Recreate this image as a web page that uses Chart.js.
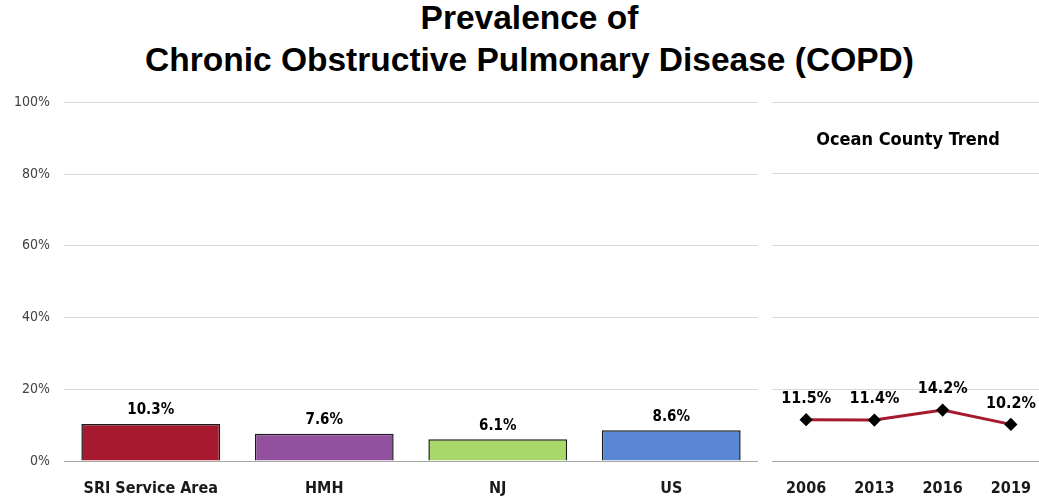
<!DOCTYPE html>
<html>
<head>
<meta charset="utf-8">
<script src="https://cdn.jsdelivr.net/npm/chart.js@4"></script>
<style>
  html, body { margin: 0; padding: 0; background: #fff; overflow: hidden; }
  body { width: 1039px; height: 497px; position: relative; }
  .title {
    position: absolute; left: 10px; width: 1039px; text-align: center;
    font: bold 33.5px 'Liberation Sans', Arial, sans-serif; color: #000; line-height: 42px;
  }
  #trendLabel {
    position: absolute; left: 772px; width: 272px; top: 128px; text-align: center;
    font: bold 18px 'Liberation Sans Narrow', 'Arial Narrow', 'DejaVu Sans Condensed', sans-serif; color: #000;
  }
  #barWrap { position: absolute; left: 0; top: 80px; width: 760px; height: 417px; }
  #lineWrap { position: absolute; left: 772px; top: 90px; width: 273px; height: 407px; }
</style>
</head>
<body>
<div class="title" style="top:-3px">Prevalence of</div>
<div class="title" style="top:39px">Chronic Obstructive Pulmonary Disease (COPD)</div>
<div id="barWrap"><canvas id="barChart"></canvas></div>
<div id="lineWrap"><canvas id="lineChart"></canvas></div>
<div id="trendLabel">Ocean County Trend</div>
<script>
// data
const areas = ['SRI Service Area', 'HMH', 'NJ', 'US'];
const areaValues = [10.3, 7.6, 6.1, 8.6];
const areaColors = ['#A6192E', '#93509E', '#A8D86A', '#5A86D6'];

const years = ['2006', '2013', '2016', '2019'];
const trendValues = [11.5, 11.4, 14.2, 10.2];

const yTicks = [0, 20, 40, 60, 80, 100];

const NARROW = "'Liberation Sans Narrow', 'Arial Narrow', 'DejaVu Sans Condensed', sans-serif";

// draws the % labels above bars / points
const valueLabels = {
    id: 'valueLabels',
    afterDatasetsDraw(chart, args, opts) {
        const ctx = chart.ctx;
        const meta = chart.getDatasetMeta(0);
        const data = chart.data.datasets[0].data;
        ctx.save();
        ctx.font = 'bold ' + opts.size + 'px ' + NARROW;
        ctx.fillStyle = '#000';
        ctx.textAlign = 'center';
        ctx.textBaseline = 'bottom';
        meta.data.forEach((el, i) => {
            ctx.fillText(data[i].toFixed(1) + '%', el.x, el.y - opts.gap);
        });
        ctx.restore();
    }
};

const gridColor = ctx => ctx.tick.value === 0 ? '#a6a6a6' : '#d9d9d9';

new Chart(document.getElementById('barChart'), {
    type: 'bar',
    data: {
        labels: areas,
        datasets: [{
            data: areaValues,
            backgroundColor: areaColors,
            borderColor: '#1a1a1a',
            borderWidth: 1.5,
            barPercentage: 0.8,
            categoryPercentage: 1.0
        }]
    },
    options: {
        responsive: true,
        maintainAspectRatio: false,
        animation: false,
        layout: { autoPadding: false, padding: { top: 2, right: 2 } },
        plugins: {
            legend: { display: false },
            tooltip: { enabled: false },
            valueLabels: { size: 15, gap: 6 }
        },
        scales: {
            y: {
                min: 0, max: 100,
                afterBuildTicks: s => { s.ticks = yTicks.map(v => ({ value: v })); },
                afterFit: s => { s.width = 64; },
                border: { display: false },
                grid: { color: gridColor, drawTicks: false },
                ticks: {
                    padding: 14,
                    color: '#404040',
                    font: { family: NARROW, size: 14 },
                    callback: v => v + '%'
                }
            },
            x: {
                afterFit: s => { s.height = 36; },
                border: { display: false },
                grid: { display: false },
                ticks: {
                    padding: 10,
                    color: '#1a1a1a',
                    font: { family: NARROW, size: 16, weight: 'bold' }
                }
            }
        }
    },
    plugins: [valueLabels]
});

new Chart(document.getElementById('lineChart'), {
    type: 'line',
    data: {
        labels: years,
        datasets: [{
            data: trendValues,
            borderColor: '#A6192E',
            borderWidth: 3,
            pointStyle: 'rectRot',
            pointRadius: 4.5,
            pointBackgroundColor: '#000',
            pointBorderColor: '#000',
            tension: 0,
            clip: false
        }]
    },
    options: {
        responsive: true,
        maintainAspectRatio: false,
        animation: false,
        layout: { autoPadding: false, padding: { top: 12 } },
        plugins: {
            legend: { display: false },
            tooltip: { enabled: false },
            valueLabels: { size: 16, gap: 13 }
        },
        scales: {
            y: {
                min: 0, max: 100,
                afterBuildTicks: s => { s.ticks = yTicks.map(v => ({ value: v })); },
                afterFit: s => { s.width = 0; },
                border: { display: false },
                grid: { color: gridColor, drawTicks: false },
                ticks: { display: false }
            },
            x: {
                offset: true,
                afterFit: s => { s.height = 36; },
                border: { display: false },
                grid: { display: false },
                ticks: {
                    padding: 10,
                    color: '#1a1a1a',
                    font: { family: NARROW, size: 16, weight: 'bold' }
                }
            }
        }
    },
    plugins: [valueLabels]
});
</script>
</body>
</html>
